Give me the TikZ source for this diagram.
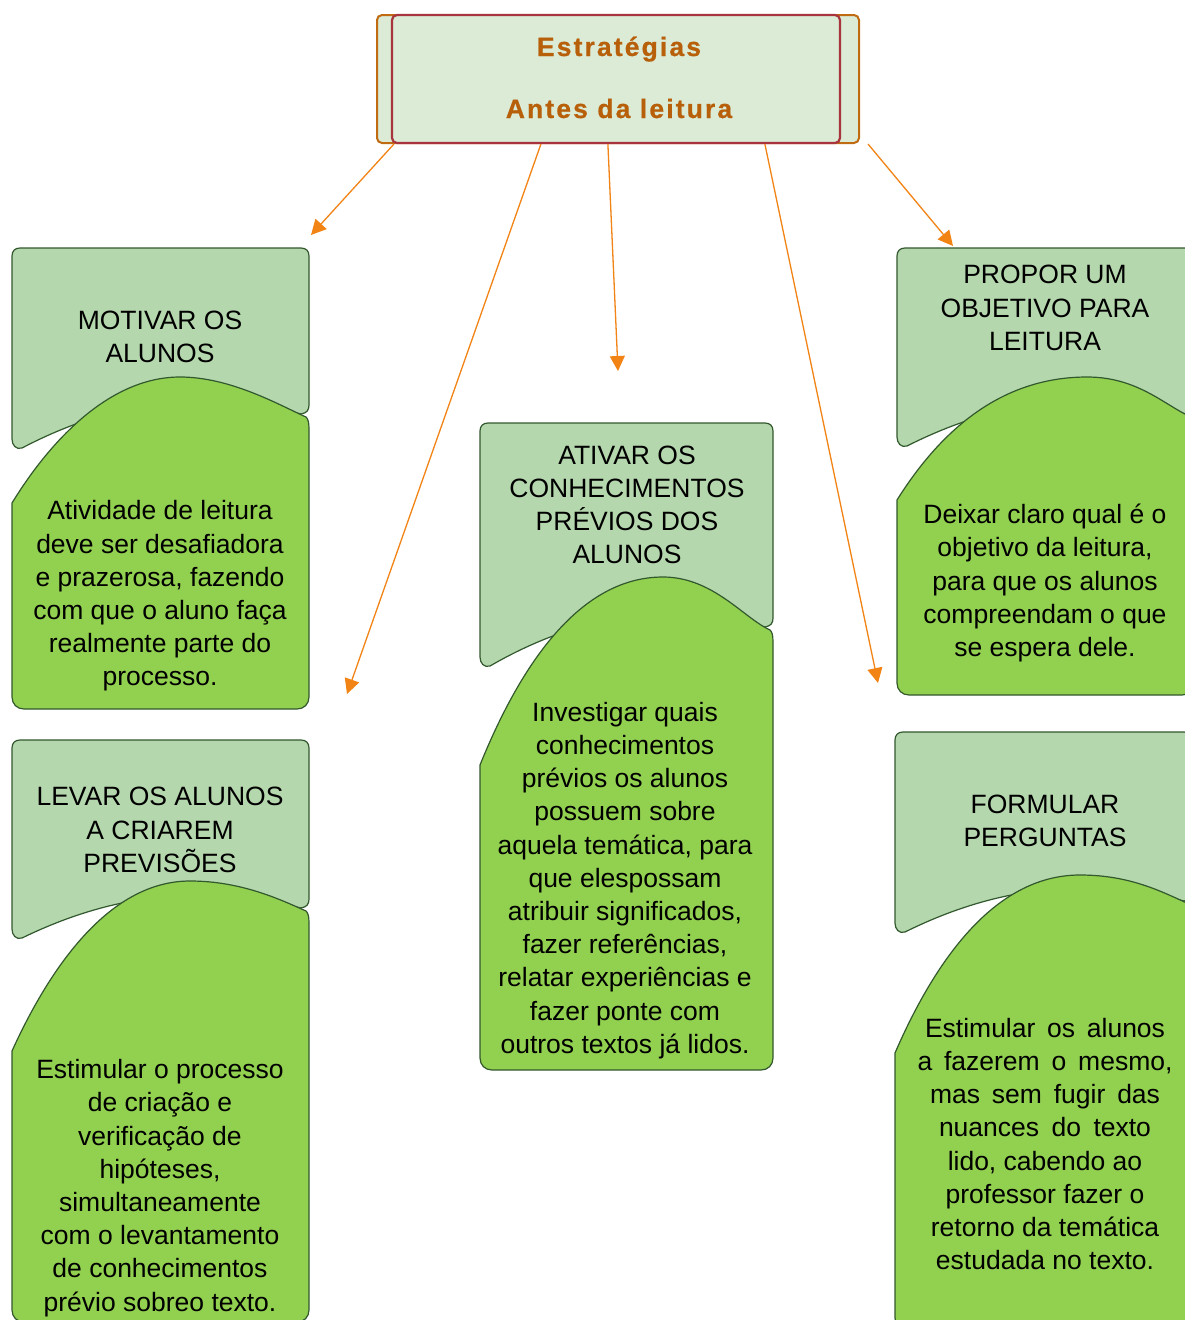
\documentclass[tikz,border=0pt]{standalone}
\usepackage{fontspec}
\setmainfont{Liberation Sans}
\newfontfamily\titlefont[LetterSpace=8.0,FakeBold=0.6]{Liberation Sans Bold}
\usetikzlibrary{arrows.meta,calc}
\definecolor{tboxfill}{RGB}{181,215,173}
\definecolor{gfill}{RGB}{146,208,80}
\definecolor{cardline}{RGB}{50,88,45}
\definecolor{headfill}{RGB}{219,235,214}
\definecolor{headorange}{RGB}{192,106,18}
\definecolor{headred}{RGB}{168,52,62}
\definecolor{headtext}{RGB}{184,95,10}
\definecolor{arrowc}{RGB}{242,132,22}
\tikzset{
 tbox/.style={draw=cardline, fill=tboxfill, line width=1.2pt, line join=round},
 gbox/.style={draw=cardline, fill=gfill, line width=1.2pt, line join=round},
 cardtext/.style={align=center, font=\fontsize{26.5}{33.2}\selectfont, inner sep=0pt},
 conn/.style={draw=arrowc, line width=1.3pt, -{Triangle[length=15pt,width=15pt]}},
 headtxt/.style={text=headtext, font=\titlefont\fontsize{26.5}{30}\selectfont, inner sep=0pt, anchor=base},
}
% #1 x0, #2 x1, #3 ytop, #4 top-box left bottom, #5 top-box right bottom,
% #6 arch peak x, #7 arch peak y, #8 green left start y, #9 green bottom
\newcommand{\cardshape}[9]{%
 \pgfmathsetmacro\cardW{#2-#1}%
 \pgfmathsetmacro\cardH{#8-#7}%
 \draw[tbox] ({#2-8},{#5+1}) .. controls ({#2-2},{#5}) and (#2,{#5-3}) .. (#2,{#5-8})
   -- (#2,{#3+8}) .. controls (#2,{#3+3}) and ({#2-3},#3) .. ({#2-8},#3)
   -- ({#1+8},#3) .. controls ({#1+3},#3) and (#1,{#3+3}) .. (#1,{#3+8})
   -- (#1,{#4-8})
   .. controls (#1,{#4-2}) and ({#1+4},{#4+3}) .. ({#1+10},{#4+1})
   .. controls ({#1+0.4*\cardW},{#5-22}) and ({#2-0.3*\cardW},{#5-18}) .. ({#2-8},{#5+1}) -- cycle;
 \draw[gbox] (#1,#8)
   .. controls ({#1+0.13*\cardW},{#8-0.5*\cardH}) and ({#1+0.33*\cardW},#7) .. (#6,#7)
   .. controls ({#6+0.17*\cardW},#7) and ({#2-0.1*\cardW},{#5-8}) .. ({#2-3},{#5+4})
   .. controls ({#2-1},{#5+6}) and (#2,{#5+9}) .. (#2,{#5+16})
   -- (#2,{#9-12}) .. controls (#2,{#9-5}) and ({#2-5},#9) .. ({#2-12},#9)
   -- ({#1+12},#9) .. controls ({#1+5},#9) and (#1,{#9-5}) .. (#1,{#9-12})
   -- cycle;
}
\begin{document}
\begin{tikzpicture}[x=1pt,y=-1pt]
\fill[white] (0,0) rectangle (1185,1320);
\useasboundingbox (0,0) rectangle (1185,1320);

% header
\node[draw=headorange, fill=headfill, line width=2pt, rounded corners=5pt,
      minimum width=482pt, minimum height=128pt, inner sep=0pt] (topouter) at (618,79) {};
\node[draw=headred, fill=headfill, line width=2.2pt, rounded corners=5pt,
      minimum width=448pt, minimum height=128pt, inner sep=0pt] (top) at (616,79) {};
\node[headtxt] (h1) at (619,56) {Estratégias};
\node[headtxt] (h2) at (619,118) {Antes da leitura};

% cards
\cardshape{12}{309}{248}{447}{413}{180}{377}{503}{709}
\node[cardtext] (c1t) at (160,337) {MOTIVAR OS\\ALUNOS};
\node[cardtext] (c1b) at (160,596) {Atividade de leitura\\deve ser desafiadora\\e prazerosa, fazendo\\com que o aluno faça\\realmente parte do\\processo.};

\cardshape{12}{309}{740}{937}{907}{190}{881}{1051}{1322}
\node[cardtext] (c2t) at (160,830) {LEVAR OS ALUNOS\\A CRIAREM\\PREVISÕES};
\node[cardtext] (c2b) at (160,1188) {Estimular o processo\\de criação e\\verificação de\\hipóteses,\\simultaneamente\\com o levantamento\\de conhecimentos\\prévio sobreo texto.};

\cardshape{480}{773}{423}{665}{626}{663}{577}{765}{1070}
\node[cardtext] (c3t) at (627,505) {ATIVAR OS\\CONHECIMENTOS\\PRÉVIOS DOS\\ALUNOS};
\node[cardtext] (c3b) at (625,880.5) {Investigar quais\\conhecimentos\\prévios os alunos\\possuem sobre\\aquela temática, para\\que elespossam\\atribuir significados,\\fazer referências,\\relatar experiências e\\fazer ponte com\\outros textos já lidos.};

\cardshape{897}{1194}{248}{445}{413}{1087}{377}{500}{695}
\node[cardtext] (c4t) at (1045,308) {PROPOR UM\\OBJETIVO PARA\\LEITURA};
\node[cardtext] (c4b) at (1045,583) {Deixar claro qual é o\\objetivo da leitura,\\para que os alunos\\compreendam o que\\se espera dele.};

\cardshape{895}{1192}{732}{931}{900}{1080}{875}{1053}{1330}
\node[cardtext] (c5t) at (1045,821) {FORMULAR\\PERGUNTAS};
\node[cardtext] (c5b) at (1045,1144) {\makebox[240pt][s]{Estimular os alunos}\\\makebox[255pt][s]{a fazerem o mesmo,}\\\makebox[230pt][s]{mas sem fugir das}\\\makebox[212pt][s]{nuances do texto}\\lido, cabendo ao\\professor fazer o\\retorno da temática\\estudada no texto.};

% arrow ends
\coordinate (a1) at (311,235);
\coordinate (a2) at (347,694);
\coordinate (a3) at (618,371);
\coordinate (a4) at (878,683);
\coordinate (a5) at (953,246);

\draw[conn] ([xshift=3pt]top.south west) -- (a1);
\draw[conn] ([xshift=150pt]top.south west) -- (a2);
\draw[conn] ([xshift=217pt]top.south west) -- (a3);
\draw[conn] ([xshift=374pt]top.south west) -- (a4);
\draw[conn] ([xshift=8pt]topouter.south east) -- (a5);
\end{tikzpicture}
\end{document}
